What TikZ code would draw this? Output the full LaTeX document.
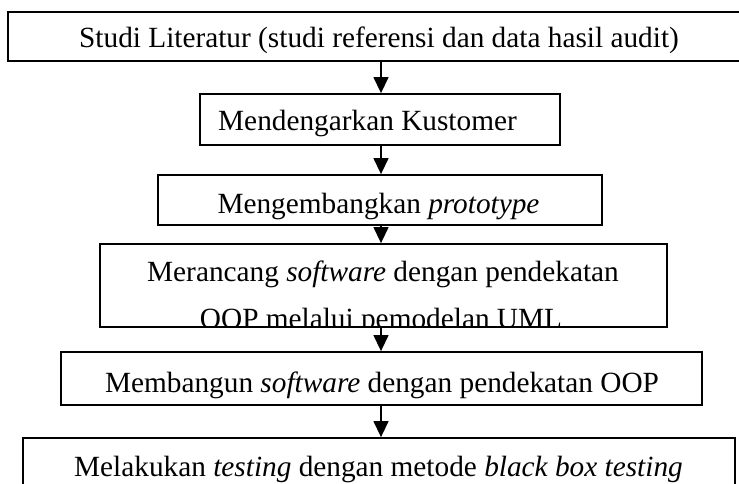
\documentclass[tikz,border=0pt]{standalone}
\usepackage{fontspec}
\setmainfont{Liberation Serif}
\usetikzlibrary{arrows.meta}
\begin{document}
\begin{tikzpicture}[x=1pt,y=-1pt,
  box/.style={draw, line width=1.8pt, rectangle, inner sep=0pt},
  lbl/.style={anchor=base, inner sep=0pt, font=\fontsize{29.3}{34}\selectfont},
  flow/.style={line width=1.3pt, -{Triangle[width=15pt,length=16pt]}}]
\useasboundingbox (0,0) rectangle (739,484);
\clip (0,0) rectangle (739,484);

% vertical axis that carries all the arrows
\coordinate (axis) at (381,0);

% process boxes
\node[box, minimum width=740pt, minimum height=49pt] (b1) at (378,36.5) {};
\node[box, minimum width=360pt, minimum height=51pt] (b2) at (380,119.5) {};
\node[box, minimum width=444pt, minimum height=50pt] (b3) at (380,200) {};
\node[box, minimum width=567pt, minimum height=83pt] (b4) at (383.5,285.5) {};
\node[box, minimum width=641pt, minimum height=53pt] (b5) at (381.5,378.5) {};
\node[box, minimum width=712pt, minimum height=84pt] (b6) at (379,480) {};

% box texts
\node[lbl] (t1) at (379,48) {Studi Literatur (studi referensi dan data hasil audit)};
\node[lbl] (t2) at (367.5,131) {Mendengarkan Kustomer};
\node[lbl] (t3) at (378.5,213) {Mengembangkan \textit{prototype}};
\node[lbl] (t4a) at (383,281) {Merancang \textit{software} dengan pendekatan};
% second line overflows the box and is cut off by its lower edge
\begin{scope}
  \clip (b4.north west) rectangle (b4.south east);
  \node[lbl] (t4b) at (381,328) {OOP melalui pemodelan UML};
\end{scope}
\node[lbl] (t5) at (382,392) {Membangun \textit{software} dengan pendekatan OOP};
\node[lbl] (t6) at (378.5,476) {Melakukan \textit{testing} dengan metode \textit{black box testing}};

% connectors
\draw[flow] (b1.south -| axis) -- (b2.north -| axis);
\draw[flow] (b2.south -| axis) -- (b3.north -| axis);
\draw[flow] (b3.south -| axis) -- (b4.north -| axis);
\draw[flow] (b4.south -| axis) -- (b5.north -| axis);
\draw[flow] (b5.south -| axis) -- (b6.north -| axis);
\end{tikzpicture}
\end{document}
